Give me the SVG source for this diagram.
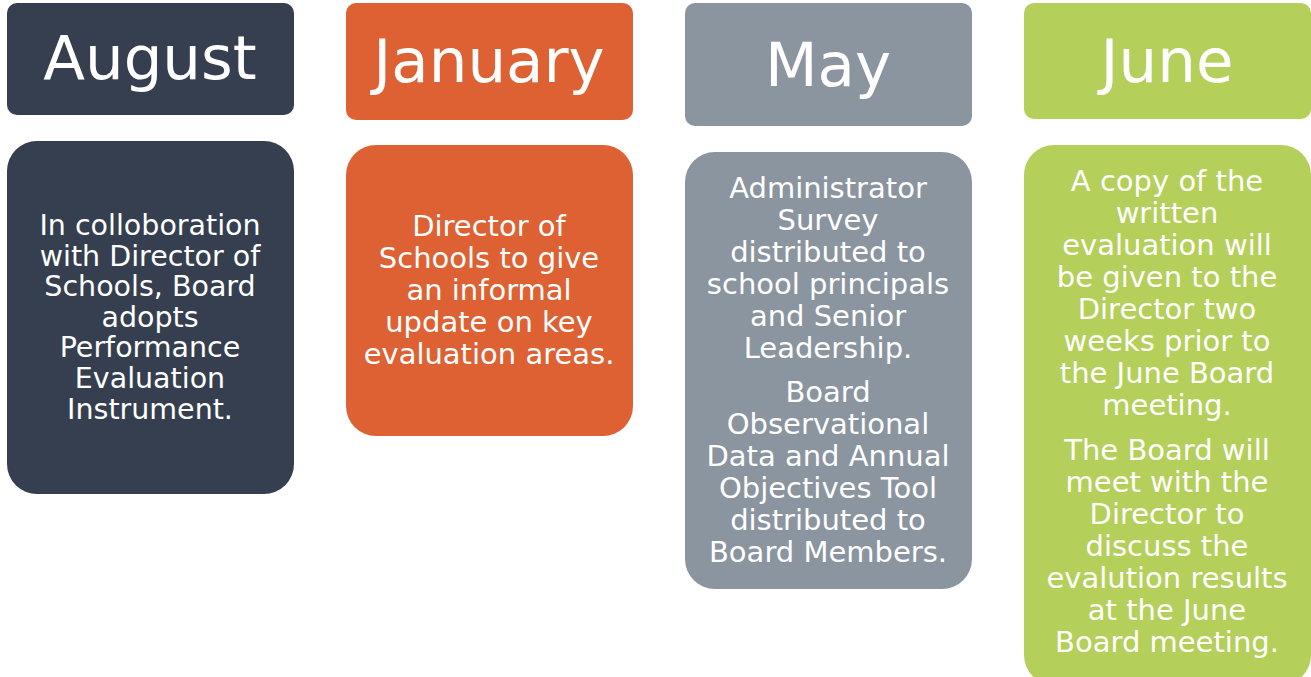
<svg xmlns="http://www.w3.org/2000/svg" width="1311" height="677" viewBox="0 0 1311 677">
<style>
.h{font-family:"DejaVu Sans",Verdana,sans-serif;font-size:61px;fill:#fff;text-anchor:middle}
.b{font-family:"DejaVu Sans",Verdana,sans-serif;font-size:29px;fill:#fff;text-anchor:middle}
.c1{fill:#353f4f}.c2{fill:#dd6133}.c3{fill:#8a959f}.c4{fill:#b4cf5a}
</style>
<rect width="1311" height="677" fill="#fff"/>
<g id="aug-head"><rect class="c1" x="7" y="3" width="287" height="112" rx="10"/><text class="h" x="150" y="79">August</text></g>
<g id="jan-head"><rect class="c2" x="346" y="3" width="287" height="117" rx="10"/><text class="h" x="489" y="82">January</text></g>
<g id="may-head"><rect class="c3" x="685" y="3" width="287" height="123" rx="10"/><text class="h" x="828" y="86">May</text></g>
<g id="jun-head"><rect class="c4" x="1024" y="3" width="287" height="116" rx="10"/><text class="h" x="1167" y="82">June</text></g>
<g id="aug-body"><rect class="c1" x="7" y="141" width="287" height="353" rx="30"/>
<text class="b" x="150" y="235" style="font-size:28.5px"><tspan x="150">In colloboration</tspan><tspan x="150" dy="30.6">with Director of</tspan><tspan x="150" dy="30.6">Schools, Board</tspan><tspan x="150" dy="30.6">adopts</tspan><tspan x="150" dy="30.6">Performance</tspan><tspan x="150" dy="30.6">Evaluation</tspan><tspan x="150" dy="30.6">Instrument.</tspan></text></g>
<g id="jan-body"><rect class="c2" x="346" y="145" width="287" height="291" rx="30"/>
<text class="b" x="489" y="236"><tspan x="489">Director of</tspan><tspan x="489" dy="32">Schools to give</tspan><tspan x="489" dy="32">an informal</tspan><tspan x="489" dy="32">update on key</tspan><tspan x="489" dy="32">evaluation areas.</tspan></text></g>
<g id="may-body"><rect class="c3" x="685" y="152" width="287" height="437" rx="30"/>
<text class="b" x="828" y="198"><tspan x="828">Administrator</tspan><tspan x="828" dy="32">Survey</tspan><tspan x="828" dy="32">distributed to</tspan><tspan x="828" dy="32">school principals</tspan><tspan x="828" dy="32">and Senior</tspan><tspan x="828" dy="32">Leadership.</tspan><tspan x="828" dy="44">Board</tspan><tspan x="828" dy="32">Observational</tspan><tspan x="828" dy="32">Data and Annual</tspan><tspan x="828" dy="32">Objectives Tool</tspan><tspan x="828" dy="32">distributed to</tspan><tspan x="828" dy="32">Board Members.</tspan></text></g>
<g id="jun-body"><rect class="c4" x="1024" y="145" width="287" height="540" rx="30"/>
<text class="b" x="1167" y="191"><tspan x="1167">A copy of the</tspan><tspan x="1167" dy="32">written</tspan><tspan x="1167" dy="32">evaluation will</tspan><tspan x="1167" dy="32">be given to the</tspan><tspan x="1167" dy="32">Director two</tspan><tspan x="1167" dy="32">weeks prior to</tspan><tspan x="1167" dy="32">the June Board</tspan><tspan x="1167" dy="32">meeting.</tspan><tspan x="1167" dy="45">The Board will</tspan><tspan x="1167" dy="32">meet with the</tspan><tspan x="1167" dy="32">Director to</tspan><tspan x="1167" dy="32">discuss the</tspan><tspan x="1167" dy="32">evalution results</tspan><tspan x="1167" dy="32">at the June</tspan><tspan x="1167" dy="32">Board meeting.</tspan></text></g>
</svg>
